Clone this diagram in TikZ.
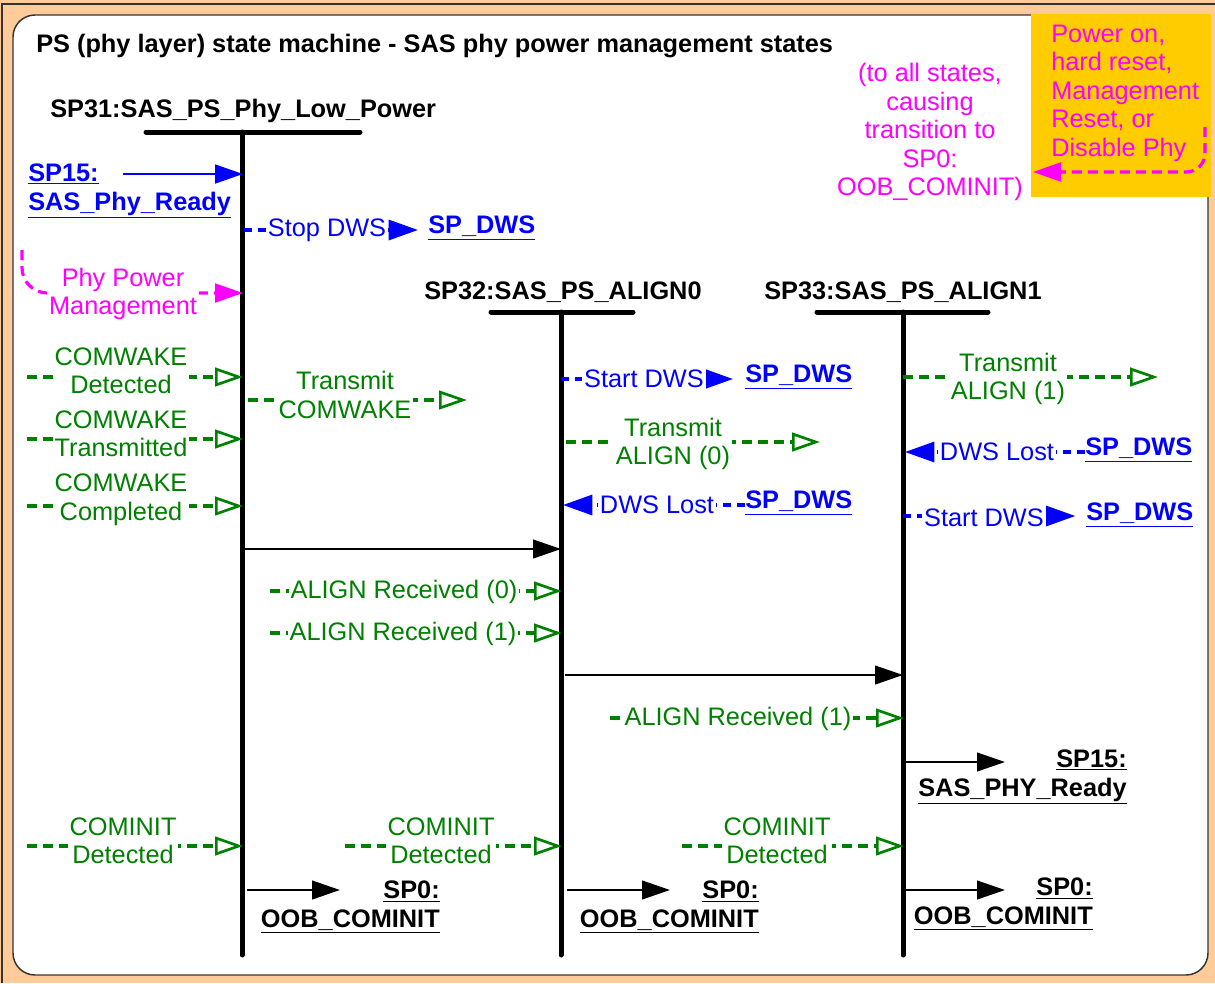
\documentclass[tikz,border=0pt]{standalone}
\usepackage{fontspec}
\setmainfont{Liberation Sans}
\usetikzlibrary{arrows.meta}
\definecolor{grn}{RGB}{0,128,0}
\definecolor{blu}{RGB}{0,0,255}
\definecolor{mag}{RGB}{255,0,255}
\definecolor{orng}{RGB}{255,204,153}
\definecolor{yel}{RGB}{255,204,0}
\pgfdeclarelayer{bg}
\pgfdeclarelayer{lines}
\pgfsetlayers{bg,lines,main}
\tikzset{
  txt/.style={font=\fontsize{19pt}{21.4pt}\selectfont, inner sep=0pt, align=center},
  lbl/.style={txt, fill=white, inner sep=1.5pt},
  lnk/.style={font=\fontsize{19pt}{21.4pt}\selectfont\bfseries, inner sep=0pt},
  life/.style={line width=3.75pt, line cap=round},
  gd/.style={draw=grn, line width=2.4pt, dash pattern=on 7.5pt off 4.5pt, -{Triangle[open, length=21pt, width=14pt, line width=2pt]}},
  bd/.style={draw=blu, line width=2.4pt, dash pattern=on 6pt off 4.5pt, -{Triangle[length=22pt, width=15pt]}},
  bs/.style={draw=blu, line width=2.2pt, -{Triangle[length=21pt, width=14pt]}},
  ka/.style={draw=black, line width=1.6pt, -{Triangle[length=21pt, width=14pt]}},
  md/.style={draw=mag, line width=2.4pt, dash pattern=on 7.5pt off 4.5pt, rounded corners=14pt, -{Triangle[length=21pt, width=14pt]}}
}
\begin{document}
\begin{tikzpicture}[x=0.75pt, y=-0.75pt]
\useasboundingbox (0,0) rectangle (1215,983);
\begin{pgfonlayer}{bg}
  \fill[orng] (0,0) rectangle (1215,983);
  \draw[line width=1.2pt, draw=black!80] (2,983) -- (2,4) -- (1215,4);
  \draw[fill=white, draw=black!80, line width=1.1pt, rounded corners=16.5pt] (13,15) rectangle (1208,975);
  \fill[yel] (1031,14) rectangle (1211,197);
\end{pgfonlayer}

% titles
\node[lnk, anchor=west] (title) at (36,46) {PS (phy layer) state machine - SAS phy power management states};
\node[lnk, anchor=west] (s31) at (50,111) {SP31:SAS\_PS\_Phy\_Low\_Power};
\node[lnk, anchor=west] (s32) at (424,292) {SP32:SAS\_PS\_ALIGN0};
\node[lnk, anchor=west] (s33) at (764,292) {SP33:SAS\_PS\_ALIGN1};

% lifeline coordinates
\coordinate (b1l) at (146,132); \coordinate (b1r) at (360,132);
\coordinate (l1t) at (242,132); \coordinate (l1b) at (242,955);
\coordinate (b2l) at (491,312); \coordinate (b2r) at (633,312);
\coordinate (l2t) at (561,312); \coordinate (l2b) at (561,955);
\coordinate (b3l) at (817,312); \coordinate (b3r) at (988,312);
\coordinate (l3t) at (903,312); \coordinate (l3b) at (903,955);

% yellow box
\node[txt, text=mag, align=left, anchor=west] (trig) at (1051,93) {Power on,\\hard reset,\\Management\\Reset, or\\Disable Phy};
\node[txt, text=mag] (note) at (930,132) {(to all states,\\causing\\transition to\\SP0:\\OOB\_COMINIT)};

% left column
\node[lnk, text=blu, align=left, anchor=west] (sp15a) at (28,191) {\underline{SP15:}\\\underline{SAS\_Phy\_Ready}};
\node[lnk, text=blu, anchor=west] (dws1) at (428,228) {\underline{SP\_DWS}};
\node[lbl, text=blu] (stop1) at (327,230) {Stop DWS};
\node[lbl, text=mag] (ppm) at (123,294) {Phy Power\\Management};
\node[lbl, text=grn] (cwd) at (121,371) {COMWAKE\\Detected};
\node[lbl, text=grn] (cwt) at (121,434) {COMWAKE\\Transmitted};
\node[lbl, text=grn] (cwc) at (121,500) {COMWAKE\\Completed};
\node[lbl, text=grn] (tcw) at (345,395) {Transmit\\COMWAKE};
\node[lbl, text=grn] (ar0) at (404,592) {ALIGN Received (0)};
\node[lbl, text=grn] (ar1a) at (403,634) {ALIGN Received (1)};
\node[lbl, text=grn] (cid1) at (123,841) {COMINIT\\Detected};
\node[lnk, align=right, anchor=east] (oob1) at (440,907) {\underline{SP0:}\\\underline{OOB\_COMINIT}};

% middle column
\node[lbl, text=blu] (start2) at (644,379) {Start DWS};
\node[lnk, text=blu, anchor=west] (dws2) at (745,377) {\underline{SP\_DWS}};
\node[lbl, text=grn] (ta0) at (673,444) {Transmit\\ALIGN (0)};
\node[lbl, text=blu] (lost2) at (657,505) {DWS Lost};
\node[lnk, text=blu, anchor=west] (dws3) at (745,503) {\underline{SP\_DWS}};
\node[lbl, text=grn] (cid2) at (441,841) {COMINIT\\Detected};
\node[lnk, align=right, anchor=east] (oob2) at (759,907) {\underline{SP0:}\\\underline{OOB\_COMINIT}};

% right column
\node[lbl, text=grn] (ta1) at (1008,379) {Transmit\\ALIGN (1)};
\node[lbl, text=blu] (lost3) at (997,452) {DWS Lost};
\node[lnk, text=blu, anchor=west] (dws4) at (1085,450) {\underline{SP\_DWS}};
\node[lbl, text=blu] (start3) at (984,518) {Start DWS};
\node[lnk, text=blu, anchor=west] (dws5) at (1086,515) {\underline{SP\_DWS}};
\node[lbl, text=grn] (ar1b) at (738,719) {ALIGN Received (1)};
\node[lnk, align=right, anchor=east] (sp15b) at (1127,777) {\underline{SP15:}\\\underline{SAS\_PHY\_Ready}};
\node[lbl, text=grn] (cid3) at (777,841) {COMINIT\\Detected};
\node[lnk, align=right, anchor=east] (oob3) at (1093,904) {\underline{SP0:}\\\underline{OOB\_COMINIT}};

% free-end coordinates
\coordinate (m1a) at (1205,127); \coordinate (m1b) at (1205,172); \coordinate (m1c) at (1033,172);
\coordinate (m2a) at (22,250); \coordinate (m2b) at (22,293); \coordinate (m2c) at (243,293);
\coordinate (q1) at (123,174); \coordinate (p1) at (243,174);
\coordinate (q2) at (244,230);
\coordinate (g1) at (27,377); \coordinate (h1) at (243,377);
\coordinate (g2) at (27,439); \coordinate (h2) at (243,439);
\coordinate (g3) at (27,506); \coordinate (h3) at (243,506);
\coordinate (g4) at (248,400); \coordinate (h4) at (467,400);
\coordinate (k1) at (242,549); \coordinate (k1e) at (561,549);
\coordinate (g5) at (270,591); \coordinate (h5) at (562,591);
\coordinate (g6) at (270,633); \coordinate (h6) at (562,633);
\coordinate (g7) at (27,846); \coordinate (h7) at (243,846);
\coordinate (k2) at (247,890); \coordinate (k2e) at (340,890);
\coordinate (q3) at (561,379);
\coordinate (g8) at (566,442); \coordinate (h8) at (820,442);
\coordinate (p3) at (563,505);
\coordinate (g9) at (345,846); \coordinate (h9) at (562,846);
\coordinate (k3) at (567,890); \coordinate (k3e) at (670,890);
\coordinate (k4) at (565,675); \coordinate (k4e) at (903,675);
\coordinate (g10) at (903,377); \coordinate (h10) at (1158,377);
\coordinate (p4) at (905,452);
\coordinate (q5) at (903,516);
\coordinate (g11) at (610,718); \coordinate (h11) at (904,718);
\coordinate (k5) at (905,762); \coordinate (k5e) at (1005,762);
\coordinate (g12) at (682,846); \coordinate (h12) at (904,846);
\coordinate (k6) at (905,890); \coordinate (k6e) at (1005,890);

\begin{pgfonlayer}{lines}
  \draw[life] (b1l) -- (b1r); \draw[life] (l1t) -- (l1b);
  \draw[life] (b2l) -- (b2r); \draw[life] (l2t) -- (l2b);
  \draw[life] (b3l) -- (b3r); \draw[life] (l3t) -- (l3b);
  \draw[md] (m1a) -- (m1b) -- (m1c);
  \draw[md, rounded corners=19pt] (m2a) -- (m2b) -- (m2c);
  \draw[bs] (q1) -- (p1);
  \draw[bd] (q2) -- ([xshift=-7.5pt]dws1.west |- q2);
  \draw[gd] (g1) -- (h1);
  \draw[gd] (g2) -- (h2);
  \draw[gd] (g3) -- (h3);
  \draw[gd] (g4) -- (h4);
  \draw[ka] (k1) -- (k1e);
  \draw[gd] (g5) -- (h5);
  \draw[gd] (g6) -- (h6);
  \draw[gd] (g7) -- (h7);
  \draw[ka] (k2) -- (k2e);
  \draw[bd] (q3) -- ([xshift=-9pt]dws2.west |- q3);
  \draw[gd] (g8) -- (h8);
  \draw[bd] (dws3.west |- p3) -- (p3);
  \draw[gd] (g9) -- (h9);
  \draw[ka] (k3) -- (k3e);
  \draw[ka] (k4) -- (k4e);
  \draw[gd] (g10) -- (h10);
  \draw[bd] (dws4.west |- p4) -- (p4);
  \draw[bd] (q5) -- ([xshift=-8pt]dws5.west |- q5);
  \draw[gd] (g11) -- (h11);
  \draw[ka] (k5) -- (k5e);
  \draw[gd] (g12) -- (h12);
  \draw[ka] (k6) -- (k6e);
\end{pgfonlayer}
\end{tikzpicture}
\end{document}
